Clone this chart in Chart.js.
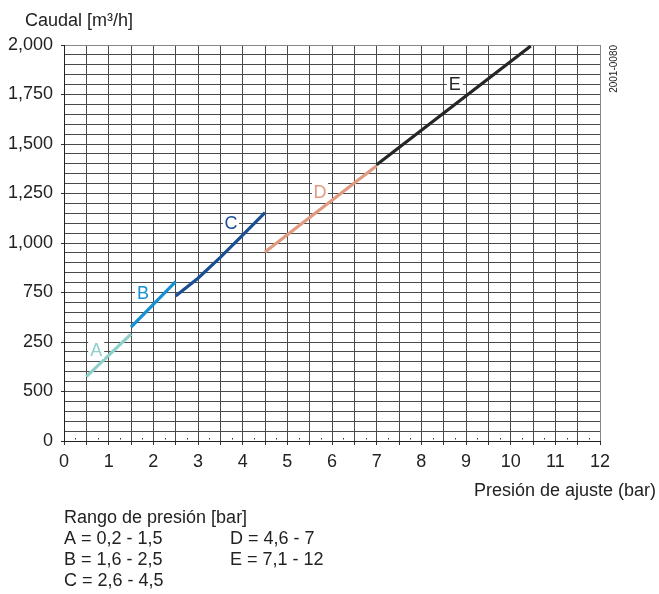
<!DOCTYPE html>
<html>
<head>
<meta charset="utf-8">
<script src="https://cdn.jsdelivr.net/npm/chart.js@4/dist/chart.umd.min.js"></script>
<style>
  body { margin: 0; background: #fff; }
  #wrap { width: 659px; height: 594px; }
</style>
</head>
<body>
<div id="wrap"><canvas id="grafico" width="659" height="594"></canvas></div>
<script>
// curvas (presion bar / caudal m3/h)
const aX = [0.5, 1.5],            aY = [325, 540];
const bX = [1.5, 2.0, 2.5],       bY = [575, 690, 805];
const cX = [2.5, 3.0, 3.5, 4.0, 4.5], cY = [732, 822, 927, 1040, 1153];
const dX = [4.5, 7.0],            dY = [955, 1390];
const eX = [7.0, 10.45],          eY = [1395, 1995];

const nombres = ['A', 'B', 'C', 'D', 'E'];
const colores = ['#8fcfcb', '#1591d4', '#1b4f94', '#e19a80', '#262626'];
// posicion de la letra de cada curva
const letraX = [0.72, 1.77, 3.74, 5.73, 8.75];
const letraY = [460, 747, 1101, 1258, 1803];

// etiquetas del eje Y tal como aparecen en la figura
const yTickValues = [0, 250, 500, 750, 1000, 1250, 1500, 1750, 2000];
const yTickLabels = ['0', '500', '250', '750', '1,000', '1,250', '1,500', '1,750', '2,000'];
const xTickValues = [0, 1, 2, 3, 4, 5, 6, 7, 8, 9, 10, 11, 12];

const rango = [
  ['A = 0,2 - 1,5', 'D = 4,6 - 7'],
  ['B = 1,6 - 2,5', 'E = 7,1 - 12'],
  ['C = 2,6 - 4,5', '']
];

const FUENTE = '"Liberation Sans", Arial, sans-serif';

function puntos(xs, ys) {
  return xs.map((x, i) => ({ x: x, y: ys[i] }));
}

const series = [[aX, aY], [bX, bY], [cX, cY], [dX, dY], [eX, eY]];
const datasets = series.map((s, i) => ({
  label: nombres[i],
  data: puntos(s[0], s[1]),
  showLine: true,
  borderColor: colores[i],
  backgroundColor: colores[i],
  borderWidth: 3.2,
  pointRadius: 0,
  tension: 0
}));

// textos extra
const textos = {
  id: 'textos',
  afterDraw(chart) {
    const c = chart.ctx;
    const xs = chart.scales.x, ys = chart.scales.y;
    c.save();
    // puntitos de 0.25 en el eje x
    c.fillStyle = '#333';
    for (let v = 0.25; v < 12; v += 0.5) {
      c.fillRect(Math.round(xs.getPixelForValue(v)), ys.bottom - 3, 1, 1.5);
    }
    // letras de las curvas
    c.font = '18px ' + FUENTE;
    c.textAlign = 'center';
    c.textBaseline = 'middle';
    for (let i = 0; i < nombres.length; i++) {
      const px = xs.getPixelForValue(letraX[i]);
      const py = ys.getPixelForValue(letraY[i]);
      c.fillStyle = '#fff';
      c.fillRect(px - 8, py - 9, 16, 18);
      c.fillStyle = colores[i];
      c.fillText(nombres[i], px, py + 1);
    }
    c.fillStyle = '#222';
    c.textAlign = 'left';
    c.textBaseline = 'alphabetic';
    c.fillText('Caudal [m³/h]', 25, 26);
    c.textAlign = 'right';
    c.fillText('Presión de ajuste (bar)', 656, 496);
    c.textAlign = 'left';
    c.fillText('Rango de presión [bar]', 64, 523);
    rango.forEach((fila, i) => {
      c.fillText(fila[0], 64, 544 + i * 21);
      if (fila[1]) c.fillText(fila[1], 230, 544 + i * 21);
    });
    // codigo vertical
    c.font = '10px ' + FUENTE;
    c.translate(614, 45);
    c.rotate(-Math.PI / 2);
    c.textAlign = 'right';
    c.textBaseline = 'middle';
    c.fillText('2001-0080', 0, 0);
    c.restore();
  }
};

new Chart(document.getElementById('grafico'), {
  type: 'scatter',
  data: { datasets: datasets },
  options: {
    responsive: false,
    animation: false,
    layout: { padding: { left: 0, top: 45, right: 59, bottom: 123 } },
    plugins: { legend: { display: false }, tooltip: { enabled: false } },
    scales: {
      x: {
        type: 'linear',
        min: 0,
        max: 12,
        afterBuildTicks: (s) => {
          const t = [];
          for (let v = 0; v <= 12; v += 0.5) t.push({ value: v });
          s.ticks = t;
        },
        afterFit: (s) => { s.height = 30; },
        ticks: {
          autoSkip: false,
          maxRotation: 0,
          padding: 6,
          color: '#222',
          font: { family: FUENTE, size: 18 },
          callback: (v) => xTickValues.includes(v) ? String(v) : ''
        },
        grid: {
          color: (ctx) => (ctx.tick && ctx.tick.value === 12) ? '#888' : '#4a4a4a',
          lineWidth: 1,
          tickLength: 4,
          tickColor: '#333'
        },
        border: { color: '#222', width: 1 }
      },
      y: {
        type: 'linear',
        min: 0,
        max: 2000,
        afterBuildTicks: (s) => {
          const t = [];
          for (let v = 0; v <= 2000; v += 50) t.push({ value: v });
          s.ticks = t;
        },
        afterFit: (s) => { s.width = 64; },
        ticks: {
          autoSkip: false,
          padding: 8,
          color: '#222',
          font: { family: FUENTE, size: 18 },
          callback: (v) => {
            const i = yTickValues.indexOf(v);
            return i >= 0 ? yTickLabels[i] : '';
          }
        },
        grid: {
          color: (ctx) => (ctx.tick && ctx.tick.value === 2000) ? '#888' : '#4a4a4a',
          lineWidth: 1,
          tickLength: 3,
          tickColor: (ctx) => (ctx.tick && yTickValues.includes(ctx.tick.value)) ? '#333' : 'rgba(0,0,0,0)'
        },
        border: { color: '#222', width: 1 }
      }
    }
  },
  plugins: [textos]
});
</script>
</body>
</html>
